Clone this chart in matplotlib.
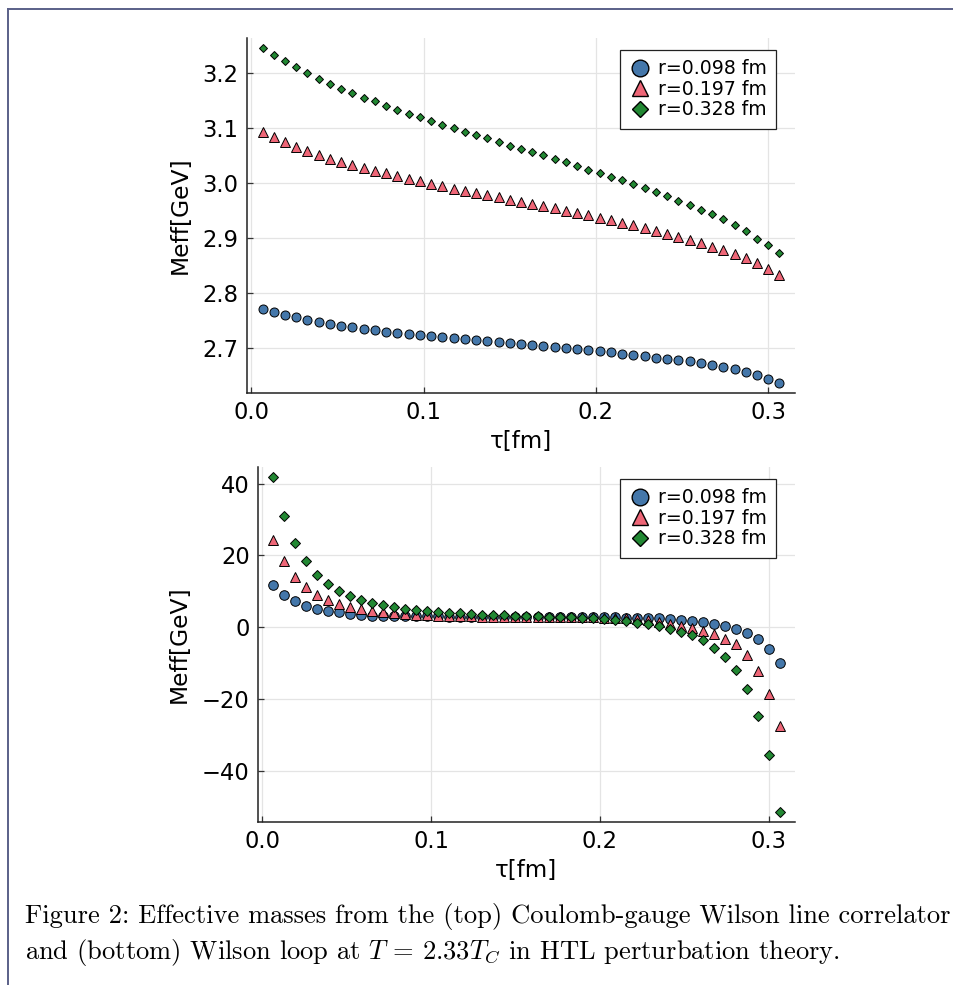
import matplotlib
matplotlib.use("Agg")
import matplotlib.pyplot as plt
from matplotlib.lines import Line2D
import numpy as np

tau = [0.00652, 0.01305, 0.01957, 0.02609, 0.03262, 0.03914, 0.04566, 0.05218,
       0.05871, 0.06523, 0.07175, 0.07828, 0.08480, 0.09132, 0.09785, 0.10437,
       0.11089, 0.11741, 0.12394, 0.13046, 0.13698, 0.14351, 0.15003, 0.15655,
       0.16308, 0.16960, 0.17612, 0.18264, 0.18917, 0.19569, 0.20221, 0.20874,
       0.21526, 0.22178, 0.22831, 0.23483, 0.24135, 0.24787, 0.25440, 0.26092,
       0.26744, 0.27397, 0.28049, 0.28701, 0.29354, 0.30006, 0.30658]

labels = ["r=0.098 fm", "r=0.197 fm", "r=0.328 fm"]

# top: Coulomb-gauge Wilson line correlator
top_r098 = [2.7721, 2.7661, 2.7612, 2.7564, 2.7515, 2.7479, 2.7442, 2.7412, 2.7382, 2.7352,
            2.7327, 2.7303, 2.7279, 2.7255, 2.7236, 2.7218, 2.7200, 2.7182, 2.7164, 2.7145,
            2.7127, 2.7109, 2.7091, 2.7073, 2.7055, 2.7036, 2.7018, 2.7000, 2.6982, 2.6964,
            2.6945, 2.6927, 2.6903, 2.6879, 2.6855, 2.6830, 2.6806, 2.6782, 2.6760, 2.6730,
            2.6700, 2.6660, 2.6620, 2.6570, 2.6510, 2.6440, 2.6370]
top_r197 = [3.0921, 3.0836, 3.0740, 3.0655, 3.0576, 3.0509, 3.0442, 3.0388, 3.0327, 3.0273,
            3.0224, 3.0176, 3.0121, 3.0073, 3.0030, 2.9988, 2.9939, 2.9897, 2.9860, 2.9818,
            2.9776, 2.9740, 2.9697, 2.9660, 2.9618, 2.9576, 2.9540, 2.9497, 2.9455, 2.9412,
            2.9370, 2.9327, 2.9279, 2.9236, 2.9188, 2.9133, 2.9078, 2.9018, 2.8964, 2.8902,
            2.8842, 2.8782, 2.8710, 2.8630, 2.8545, 2.8442, 2.8327]
top_r328 = [3.2450, 3.2315, 3.2206, 3.2097, 3.1994, 3.1890, 3.1800, 3.1710, 3.1630, 3.1550,
            3.1480, 3.1405, 3.1333, 3.1260, 3.1190, 3.1120, 3.1050, 3.0990, 3.0930, 3.0870,
            3.0810, 3.0750, 3.0680, 3.0620, 3.0560, 3.0510, 3.0436, 3.0376, 3.0310, 3.0242,
            3.0180, 3.0115, 3.0050, 2.9980, 2.9910, 2.9836, 2.9760, 2.9670, 2.9593, 2.9509,
            2.9429, 2.9338, 2.9242, 2.9127, 2.8987, 2.8866, 2.8733]

# bottom: Wilson loop
bot_r098 = [11.66, 9.04, 7.27, 5.97, 5.13, 4.57, 4.20, 3.73, 3.45, 3.26,
            3.17, 3.10, 3.05, 3.02, 3.00, 2.99, 2.98, 2.97, 2.97, 2.96,
            2.96, 2.95, 2.95, 2.94, 2.93, 2.92, 2.90, 2.88, 2.86, 2.83,
            2.79, 2.75, 2.70, 2.64, 2.57, 2.47, 2.28, 2.10, 1.82, 1.45,
            0.98, 0.40, -0.40, -1.60, -3.36, -5.97, -9.88]
bot_r197 = [24.34, 18.37, 14.08, 11.19, 9.04, 7.55, 6.43, 5.59, 5.03, 4.57,
            4.20, 3.92, 3.64, 3.45, 3.30, 3.20, 3.12, 3.06, 3.02, 2.98,
            2.95, 2.93, 2.91, 2.89, 2.87, 2.85, 2.83, 2.80, 2.77, 2.73,
            2.68, 2.60, 2.48, 2.25, 1.95, 1.50, 1.00, 0.40, -0.20, -1.00,
            -2.00, -3.30, -4.80, -7.80, -12.30, -18.60, -27.60]
bot_r328 = [41.86, 31.14, 23.59, 18.37, 14.64, 12.03, 10.07, 8.58, 7.46, 6.71,
            6.06, 5.50, 5.13, 4.76, 4.57, 4.29, 4.10, 3.92, 3.73, 3.54,
            3.45, 3.36, 3.26, 3.17, 3.08, 2.95, 2.85, 2.72, 2.60, 2.48,
            2.33, 2.10, 1.75, 1.28, 0.90, 0.25, -0.38, -1.20, -2.20, -3.64,
            -5.69, -8.30, -12.03, -17.34, -24.80, -35.50, -51.50]

top_ticks = [2.7, 2.8, 2.9, 3.0, 3.1, 3.2]
bot_ticks = [-40, -20, 0, 20, 40]
x_ticks = [0.0, 0.1, 0.2, 0.3]

colors = ["#4477AA", "#EE6677", "#228833"]
markers = ["o", "^", "D"]

W, H = 954, 985
fig = plt.figure(figsize=(W / 100, H / 100), dpi=100)
fig.patch.set_facecolor("white")
plt.rcParams["mathtext.fontset"] = "cm"

def pad_lim(vals, frac=0.03):
    lo, hi = min(vals), max(vals)
    d = (hi - lo) * frac
    return lo - d, hi + d

def style_axes(ax, yticks, yfmt):
    for s in ["top", "right"]:
        ax.spines[s].set_visible(False)
    for s in ["left", "bottom"]:
        ax.spines[s].set_color("#222222")
        ax.spines[s].set_linewidth(1.1)
    ax.grid(True, color="#e4e4e4", linewidth=0.9)
    ax.set_axisbelow(True)
    ax.tick_params(direction="in", length=4, width=0.9, color="#333333",
                   labelsize=16.3, pad=6)
    ax.set_xticks(x_ticks)
    ax.set_xticklabels(["%.1f" % t for t in x_ticks])
    ax.set_yticks(yticks)
    ax.set_yticklabels([yfmt(t) for t in yticks])
    ax.set_xlabel("τ[fm]", fontsize=16.5, labelpad=4)
    ax.set_ylabel("Meff[GeV]", fontsize=16.8, labelpad=8)

def draw(ax, series, sizes, anchor):
    for y, c, m, lab, s in zip(series, colors, markers, labels, sizes):
        ax.plot(tau, y, linestyle="none", marker=m, color=c, markersize=s,
                markeredgecolor="black", markeredgewidth=0.7, label=lab)
    handles = [Line2D([], [], linestyle="none", marker=m, color=c,
                      markersize=ls, markeredgecolor="black", markeredgewidth=1.0)
               for c, m, ls in zip(colors, markers, [12, 12, 8.2])]
    leg = ax.legend(handles, labels, loc="upper right", fontsize=13.6,
                    frameon=True, fancybox=False, edgecolor="#222222",
                    framealpha=1, borderpad=0.5, labelspacing=0.08,
                    handletextpad=0.35, handlelength=1.15, borderaxespad=0.0,
                    bbox_to_anchor=anchor)
    leg.get_frame().set_linewidth(0.9)

xl = pad_lim(tau)

ax1 = fig.add_axes([247 / W, 1 - 393 / H, (795 - 247) / W, (393 - 38) / H])
draw(ax1, [top_r098, top_r197, top_r328], [6.5, 6.5, 4.5],
     ((776 - 247) / 548, (393 - 50) / 355))
ax1.set_xlim(*xl)
ax1.set_ylim(*pad_lim(top_r098 + top_r197 + top_r328))
style_axes(ax1, top_ticks, lambda t: "%.1f" % t)

ax2 = fig.add_axes([258 / W, 1 - 822 / H, (795 - 258) / W, (822 - 467) / H])
draw(ax2, [bot_r098, bot_r197, bot_r328], [6.9, 6.9, 4.8],
     ((776 - 258) / 537, (822 - 479) / 355))
ax2.set_xlim(*xl)
ax2.set_ylim(*pad_lim(bot_r098 + bot_r197 + bot_r328))
style_axes(ax2, bot_ticks, lambda t: ("\u2212%d" % abs(t)) if t < 0 else "%d" % t)

# page frame
fig.add_artist(Line2D([8 / W, 1.0], [1 - 8.5 / H, 1 - 8.5 / H], color="#5a6088",
                      linewidth=1.4, transform=fig.transFigure))
fig.add_artist(Line2D([8 / W, 8 / W], [0.0, 1 - 8.5 / H], color="#5a6088",
                      linewidth=1.4, transform=fig.transFigure))

cap1 = "Figure 2: Effective masses from the (top) Coulomb-gauge Wilson line correlator"
cap2 = r"and (bottom) Wilson loop at $T\,=\,2.33T_C$ in HTL perturbation theory."
fig.text(25 / W, 1 - 916 / H, cap1, fontsize=19.1, family="cmr10", va="center", ha="left")
fig.text(25 / W, 1 - 953 / H, cap2, fontsize=19.1, family="cmr10", va="center", ha="left")

fig.savefig("out.png", dpi=100, facecolor="white")
